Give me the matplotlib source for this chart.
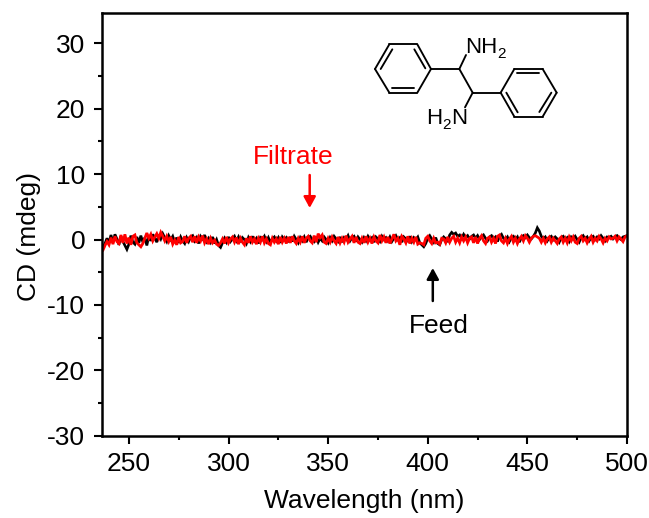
import matplotlib
matplotlib.use("Agg")
import matplotlib.pyplot as plt
from matplotlib.transforms import Affine2D

plt.rcParams['font.family'] = ['Liberation Sans', 'DejaVu Sans']
plt.rcParams['axes.unicode_minus'] = False

W, H = 649, 518
START_NM = 237

feed = [
-1.2,-0.6,0.2,-0.5,0.7,-0.4,0.8,0.1,-0.8,0.5,-0.3,-0.9,-1.5,-0.7,0.6,-0.4,
-0.7,0.4,-0.5,0.6,-0.4,0.3,-0.9,0.5,-0.2,0.8,0.2,-0.4,0.7,0.1,0.9,0.3,-0.3,0.6,
0.0,0.5,-0.4,0.3,-0.5,0.4,-0.2,-0.6,0.3,-0.3,0.4,0.6,-0.2,0.3,-0.6,0.5,0.1,0.7,-0.3,0.2,
-0.4,0.4,-0.6,0.0,-0.9,-1.2,-0.5,0.2,-0.4,0.4,-0.3,0.1,0.5,-0.2,0.4,-0.4,0.3,0.0,-0.6,0.3,
-0.3,0.5,-0.2,0.2,-0.6,0.3,0.0,0.5,-0.3,0.3,-0.4,0.1,0.4,-0.2,0.3,-0.5,0.4,0.0,0.3,-0.4,
0.4,-0.3,0.5,0.0,-0.5,0.3,-0.2,0.4,-0.4,0.3,
0.5,0.0,-0.3,0.4,-0.4,0.2,-0.2,0.4,0.0,-0.5,0.3,-0.2,0.5,0.1,-0.3,0.4,-0.4,0.3,0.0,0.6,
-0.2,0.3,0.5,-0.3,0.4,0.0,-0.4,0.3,-0.2,0.5,0.0,0.3,-0.4,0.4,0.1,-0.3,0.5,0.0,0.3,-0.2,
0.4,-0.3,0.2,0.6,0.0,0.3,-0.4,0.4,0.1,-0.2,0.5,-0.3,0.3,0.0,0.4,-0.5,-0.8,-1.1,-0.6,0.2,
0.6,0.1,-0.4,0.3,-0.6,-0.8,0.0,0.4,0.1,-0.2,0.7,1.1,0.8,1.0,0.5,0.7,0.2,0.8,0.3,0.6,
0.1,0.5,0.7,0.2,0.6,0.0,0.4,0.7,0.2,-0.2,0.4,0.6,0.1,0.4,-0.3,0.5,0.8,0.2,0.0,0.4,
-0.3,0.3,0.5,0.0,0.4,-0.4,0.3,0.6,0.3,0.7,0.3,0.1,0.5,1.0,1.8,1.3,0.5,0.1,0.4,-0.2,0.3,
0.5,0.0,0.4,0.1,-0.4,0.3,0.5,0.0,0.3,-0.3,0.4,0.1,0.5,0.0,-0.4,0.3,0.6,0.1,0.4,-0.2,
0.3,0.5,0.0,0.4,0.1,0.6,0.2,-0.2,0.4,0.3,0.5,0.1,0.4,0.6,
0.2,0.0,0.4,0.5,0.6,
]

filtrate = [
-1.6,-0.9,-0.3,-0.8,0.3,-0.7,0.5,-0.3,-0.6,0.7,-0.5,0.8,-0.6,0.3,-0.8,0.5,0.7,-0.5,
-0.8,-1.1,-0.6,0.2,1.0,0.2,0.8,-0.2,0.4,0.9,0.2,1.1,0.5,-0.2,0.5,
-0.3,0.4,-0.7,-0.1,-0.8,0.4,-0.5,-0.3,0.5,-0.5,0.2,0.5,-0.4,0.5,-0.5,0.4,-0.2,0.6,-0.5,0.1,
-0.7,0.2,-0.5,-0.1,-0.7,-0.9,-0.5,0.1,-0.6,0.4,-0.5,0.1,0.4,-0.4,0.3,-0.7,0.2,-0.4,-0.8,0.2,
-0.5,0.5,-0.4,0.1,-0.7,0.2,-0.4,0.5,-0.5,0.1,-0.6,-0.8,0.2,-0.4,0.1,-0.7,0.4,-0.4,0.2,-0.6,
0.4,-0.5,0.5,-0.2,-0.6,0.2,-0.4,0.5,-0.5,0.2,
0.5,-0.2,-0.5,0.6,-0.4,0.9,0.3,0.7,-0.4,-0.6,0.2,-0.4,0.4,-0.2,-0.6,0.4,-0.5,0.2,-0.4,0.6,
-0.4,0.1,0.5,-0.5,0.4,-0.4,-0.6,0.2,-0.5,0.5,-0.4,0.2,-0.6,0.4,-0.2,-0.5,0.7,-0.2,0.4,-0.5,
0.4,-0.6,0.1,0.8,-0.2,0.2,-0.8,0.5,0.1,-0.5,0.5,-0.6,0.2,-0.4,0.4,-0.7,-0.5,-0.6,-0.8,0.2,
0.5,-0.2,-0.6,0.2,-0.5,-0.4,-0.7,0.2,0.1,-0.5,0.4,-0.4,0.2,0.5,-0.4,0.2,-0.5,0.4,-0.2,0.4,
-0.5,0.2,0.4,-0.5,0.4,-0.6,0.2,0.6,-0.2,-0.6,0.2,0.4,-0.4,0.2,-0.6,0.5,0.7,-0.2,-0.5,0.2,
-0.6,0.1,0.5,-0.4,0.2,-0.6,0.1,0.5,-0.2,0.6,0.2,-0.4,0.2,0.5,0.6,0.4,0.2,-0.4,0.2,-0.5,0.1,
0.4,-0.4,0.2,-0.2,-0.6,0.1,0.4,-0.4,0.2,-0.5,0.4,-0.2,0.4,-0.4,-0.6,0.2,0.5,-0.2,0.2,-0.5,
0.1,0.5,-0.4,0.2,-0.2,0.5,0.1,-0.5,0.2,-0.2,0.4,0.1,0.2,0.5,
-0.2,0.4,0.1,-0.3,0.4,0.6,
]

wavelength = [START_NM + i for i in range(len(feed))]
x_ticks = [250, 300, 350, 400, 450, 500]
x_minor = [275, 325, 375, 425, 475]
y_ticks = [-30, -20, -10, 0, 10, 20, 30]
y_minor = [-25, -15, -5, 5, 15, 25]

fig = plt.figure(figsize=(W / 100, H / 100), dpi=100)
ax = fig.add_axes([102 / W, 1 - 435.7 / H, (627 - 102) / W, (435.7 - 12.7) / H])
ax.plot(wavelength, feed, color='black', lw=1.9, solid_joinstyle='miter')
ax.plot(wavelength, filtrate, color='#ff0000', lw=2.0, solid_joinstyle='miter')
ax.set_xlim(236.5, 500)
ax.set_ylim(-30, 34.7)
ax.set_xticks(x_ticks)
ax.set_xticks(x_minor, minor=True)
ax.set_yticks(y_ticks)
ax.set_yticks(y_minor, minor=True)
ax.tick_params(which='major', length=6, width=1.5, labelsize=19, pad=6)
ax.tick_params(which='minor', length=3, width=1.5)
for s in ax.spines.values():
    s.set_linewidth(1.8)
ax.set_xlabel('Wavelength (nm)', fontsize=19, labelpad=9)
ax.set_ylabel('CD (mdeg)', fontsize=19)
ax.yaxis.set_label_coords(-0.116, 0.472)

# Pixel coordinates, origin at top left, for the annotations and the structure
px = Affine2D().scale(1 / W, -1 / H).translate(0, 1) + fig.transFigure

def txt(x, y, s, size, color='black', ha='left'):
    fig.text(x, y, s, transform=px, fontsize=size, color=color, ha=ha, va='baseline')

txt(293.5, 164, 'Filtrate', 19, '#ff0000', 'center')
txt(438.5, 333, 'Feed', 19, 'black', 'center')

def arrow(x0, y0, x1, y1, c):
    ax.annotate('', xy=(x1, y1), xytext=(x0, y0), xycoords=px, textcoords=px,
                arrowprops=dict(arrowstyle='-|>,head_length=0.55,head_width=0.3', color=c,
                                lw=1.8, shrinkA=0, shrinkB=0, mutation_scale=12))

arrow(309.7, 175, 309.7, 208, '#ff0000')
arrow(432.8, 301, 432.8, 268, 'black')

bonds = [
    ((45,147),(88,73)),((88,73),(172,73)),((172,73),(213,147)),((213,147),(172,218)),
    ((172,218),(88,218)),((88,218),(45,147)),
    ((62,147),(97,88)),((163,88),(196,145)),((97,205),(163,205)),
    ((213,147),(298,147)),((298,147),(338,218)),((338,218),(422,218)),
    ((298,147),(318,105)),((338,218),(315,262)),
    ((422,218),(463,147)),((463,147),(548,147)),((548,147),(590,218)),((590,218),(548,290)),
    ((548,290),(463,290)),((463,290),(422,218)),
    ((472,160),(537,160)),((574,218),(538,276)),((439,218),(473,277)),
]
for (a, b), (c, d) in bonds:
    fig.add_artist(plt.Line2D([360 + a / 3, 360 + c / 3], [20 + b / 3, 20 + d / 3],
                              transform=px, color='black', lw=1.35, solid_capstyle='round'))

txt(465, 52.7, 'NH', 16)
txt(497, 57.5, '2', 11)
txt(426, 124, 'H', 16)
txt(442.5, 129, '2', 11)
txt(451, 124, 'N', 16)

fig.savefig('out.png', dpi=100)
